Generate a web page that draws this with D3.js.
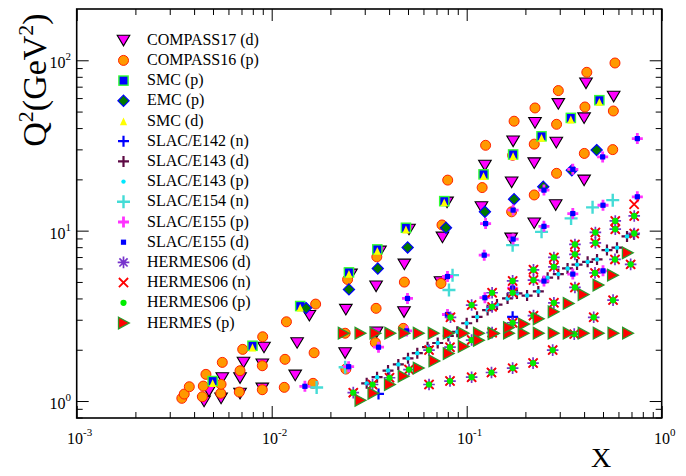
<!DOCTYPE html>
<html><head><meta charset="utf-8">
<script src="https://cdn.jsdelivr.net/npm/d3@7/dist/d3.min.js"></script>
<style>
html,body{margin:0;padding:0;background:#fff;}
svg{display:block;font-family:"Liberation Serif","Times New Roman",serif;}
</style></head><body>
<svg id="chart" width="686" height="476"></svg>
<script>
// ---------------- data (x, Q^2 in GeV^2) ----------------
const compass17d = [[0.00450,0.998],[0.00477,1.145],[0.00550,1.04],[0.00558,1.37],[0.00688,1.11],[0.00688,1.37],[0.00717,1.69],[0.00895,1.19],[0.00895,1.65],[0.00913,2.07],[0.0132,1.42],[0.0135,2.20],[0.0156,3.18],[0.0238,1.92],[0.0240,3.45],[0.0255,5.56],[0.0343,4.73],[0.0345,2.54],[0.0359,7.58],[0.0477,3.34],[0.0479,6.36],[0.0506,10.2],[0.0734,5.01],[0.0751,9.16],[0.0793,14.7],[0.119,13.8],[0.124,24.2],[0.169,9.04],[0.170,19.3],[0.173,33.6],[0.222,11.1],[0.222,25.0],[0.224,43.1],[0.286,14.2],[0.288,33.0],[0.295,55.7],[0.400,19.8],[0.400,45.9],[0.409,73.6],[0.567,61.5]];
const compass16p = [[0.00346,1.037],[0.00356,1.099],[0.00378,1.213],[0.00441,1.060],[0.00446,1.224],[0.00460,1.434],[0.00548,1.110],[0.00550,1.253],[0.00558,1.686],[0.00682,1.129],[0.00688,1.506],[0.00710,2.010],[0.00895,1.165],[0.00895,1.611],[0.00899,2.383],[0.0116,1.203],[0.0117,1.757],[0.0119,2.918],[0.0163,1.270],[0.0165,1.920],[0.0168,3.707],[0.0238,2.50],[0.0240,1.54],[0.0245,5.17],[0.0340,2.20],[0.0343,3.50],[0.0346,7.02],[0.0473,2.67],[0.0479,4.99],[0.0738,4.90],[0.0747,10.8],[0.0799,19.8],[0.120,17.9],[0.125,31.7],[0.170,12.9],[0.172,27.7],[0.175,43.9],[0.222,16.2],[0.222,32.2],[0.224,52.5],[0.289,21.7],[0.289,42.1],[0.295,66.4],[0.401,28.4],[0.404,53.2],[0.413,85.0],[0.561,29.9],[0.565,50.4],[0.576,96.4]];
const smcP = [[0.00498,1.31],[0.00797,2.11],[0.0140,3.61],[0.0249,5.69],[0.0348,7.76],[0.0488,10.4],[0.0767,14.9],[0.122,21.4],[0.173,28.0],[0.242,35.8],[0.342,45.9],[0.479,58.3]];
const emcP = [[0.0150,3.51],[0.0249,4.52],[0.0350,6.00],[0.0498,7.97],[0.0783,10.4],[0.124,12.9],[0.175,15.3],[0.247,18.1],[0.346,22.6],[0.464,29.7]];
const smcD = [[0.00498,1.28],[0.00797,2.07],[0.0140,3.55],[0.0249,5.60],[0.0348,7.64],[0.0488,10.2],[0.0767,14.7],[0.122,21.0],[0.173,27.5],[0.242,35.2],[0.342,45.1],[0.479,57.3]];
const e142n = [[0.0353,1.10],[0.172,3.12]];
const e143d = [[0.0307,1.27],[0.0347,1.38],[0.0395,1.51],[0.0446,1.64],[0.0500,1.78],[0.0558,1.91],[0.0630,2.07],[0.0710,2.19],[0.0805,2.41],[0.0895,2.55],[0.100,2.86],[0.113,3.12],[0.128,3.42],[0.143,3.68],[0.162,4.00],[0.181,4.28],[0.204,4.16],[0.233,4.40],[0.260,5.30],[0.295,5.56],[0.329,6.00],[0.368,6.32],[0.417,6.56],[0.466,6.78],[0.524,7.69],[0.590,7.95],[0.664,9.25],[0.721,9.54]];
const e143p = [[0.0307,1.27],[0.0347,1.38],[0.0395,1.51],[0.0446,1.64],[0.0500,1.78],[0.0558,1.91],[0.0630,2.07],[0.0710,2.19],[0.0805,2.41],[0.0895,2.55],[0.100,2.86],[0.113,3.12],[0.128,3.42],[0.143,3.68],[0.162,4.00],[0.181,4.28],[0.204,4.16],[0.233,4.40],[0.260,5.30],[0.295,5.56],[0.329,6.00],[0.368,6.32],[0.417,6.56],[0.466,6.78],[0.524,7.69],[0.590,7.95],[0.664,9.25],[0.721,9.54]];
const e154n = [[0.0170,1.20],[0.0238,1.58],[0.0811,4.48],[0.0846,5.48],[0.172,8.22],[0.242,9.84],[0.343,11.8],[0.442,13.7],[0.561,15.1]];
const e155p = [[0.0148,1.22],[0.0248,1.59],[0.0353,2.07],[0.0492,2.58],[0.0497,4.00],[0.0797,3.22],[0.0797,5.38],[0.123,7.18],[0.124,4.04],[0.125,11.0],[0.172,4.60],[0.173,8.92],[0.173,13.2],[0.249,5.06],[0.249,10.6],[0.249,17.3],[0.350,5.56],[0.350,12.6],[0.350,22.9],[0.500,5.81],[0.500,14.1],[0.498,27.1],[0.750,15.8],[0.750,34.7]];
const e155d = [[0.0148,1.22],[0.0248,1.59],[0.0353,2.07],[0.0492,2.58],[0.0497,4.00],[0.0797,3.22],[0.0797,5.38],[0.123,7.18],[0.124,4.04],[0.125,11.0],[0.172,4.60],[0.173,8.92],[0.173,13.2],[0.249,5.06],[0.249,10.6],[0.249,17.3],[0.350,5.56],[0.350,12.6],[0.350,22.9],[0.500,5.81],[0.500,14.1],[0.498,27.1],[0.750,15.8],[0.750,34.7]];
const hermes06d = [[0.0262,1.12],[0.0329,1.25],[0.0402,1.37],[0.0506,1.53],[0.0641,1.25],[0.0641,1.99],[0.0821,1.31],[0.0821,2.07],[0.0826,3.10],[0.106,1.38],[0.106,2.28],[0.106,3.66],[0.134,1.47],[0.135,2.52],[0.135,3.57],[0.135,4.32],[0.172,1.56],[0.172,2.88],[0.172,4.32],[0.172,5.07],[0.219,1.67],[0.220,3.17],[0.220,5.13],[0.220,5.89],[0.276,1.99],[0.280,3.77],[0.280,6.13],[0.280,6.96],[0.356,2.47],[0.359,4.64],[0.359,7.26],[0.359,8.30],[0.448,3.10],[0.455,5.65],[0.457,8.48],[0.457,9.76],[0.563,3.91],[0.576,6.78],[0.578,10.2],[0.578,11.4],[0.693,6.34],[0.723,9.63],[0.723,12.2]];
const hermes06n = [[0.0262,1.12],[0.0329,1.25],[0.0402,1.37],[0.0506,1.53],[0.0641,1.25],[0.0641,1.99],[0.0821,1.31],[0.0821,2.07],[0.0826,3.10],[0.106,1.38],[0.106,2.28],[0.106,3.66],[0.134,1.47],[0.135,2.52],[0.135,3.57],[0.135,4.32],[0.172,1.56],[0.172,2.88],[0.172,4.32],[0.172,5.07],[0.219,1.67],[0.220,3.17],[0.220,5.13],[0.220,5.89],[0.276,1.99],[0.280,3.77],[0.280,6.13],[0.280,6.96],[0.356,2.47],[0.359,4.64],[0.359,7.26],[0.359,8.30],[0.448,3.10],[0.455,5.65],[0.457,8.48],[0.457,9.76],[0.563,3.91],[0.576,6.78],[0.578,10.2],[0.578,11.4],[0.693,6.34],[0.723,9.63],[0.723,12.2],[0.722,14.3]];
const hermes06p = [[0.0262,1.12],[0.0329,1.25],[0.0402,1.37],[0.0506,1.53],[0.0641,1.25],[0.0641,1.99],[0.0821,1.31],[0.0821,2.07],[0.0826,3.10],[0.106,1.38],[0.106,2.28],[0.106,3.66],[0.134,1.47],[0.135,2.52],[0.135,3.57],[0.135,4.32],[0.172,1.56],[0.172,2.88],[0.172,4.32],[0.172,5.07],[0.219,1.67],[0.220,3.17],[0.220,5.13],[0.220,5.89],[0.276,1.99],[0.280,3.77],[0.280,6.13],[0.280,6.96],[0.356,2.47],[0.359,4.64],[0.359,7.26],[0.359,8.30],[0.448,3.10],[0.455,5.65],[0.457,8.48],[0.457,9.76],[0.563,3.91],[0.576,6.78],[0.578,10.2],[0.578,11.4],[0.693,6.34],[0.723,9.63],[0.723,12.2]];
const hermesP = [[0.0233,2.5],[0.0284,2.5],[0.0339,2.5],[0.0404,2.5],[0.0477,2.5],[0.0565,2.5],[0.0674,2.5],[0.0805,2.5],[0.0961,2.5],[0.115,2.5],[0.137,2.5],[0.164,2.5],[0.195,2.5],[0.233,2.5],[0.278,2.5],[0.332,2.5],[0.396,2.5],[0.473,2.5],[0.563,2.5],[0.669,2.5],
  [0.0284,1.01],[0.0331,1.11],[0.0402,1.25],[0.0473,1.40],[0.0565,1.56],[0.0680,1.72],[0.0805,1.90],[0.0961,2.09],[0.115,2.27],[0.137,2.49],[0.164,2.70],[0.196,2.83],[0.233,3.04],[0.278,3.34],[0.332,3.74],[0.396,4.22],[0.472,4.79],[0.560,5.48],[0.667,7.41]];

const seriesNames = ["COMPASS17 (d)","COMPASS16 (p)","SMC (p)","EMC (p)","SMC (d)","SLAC/E142 (n)","SLAC/E143 (d)","SLAC/E143 (p)","SLAC/E154 (n)","SLAC/E155 (p)","SLAC/E155 (d)","HERMES06 (d)","HERMES06 (n)","HERMES06 (p)","HERMES (p)"];
const seriesData = [compass17d,compass16p,smcP,emcP,smcD,e142n,e143d,e143p,e154n,e155p,e155d,hermes06d,hermes06n,hermes06p,hermesP];

const xMajorTicks = [0.001,0.01,0.1,1];
const xMinorTicks = [0.002,0.003,0.004,0.005,0.006,0.007,0.008,0.009,0.02,0.03,0.04,0.05,0.06,0.07,0.08,0.09,0.2,0.3,0.4,0.5,0.6,0.7,0.8,0.9];
const xTickExp = ["-3","-2","-1","0"];
const yMajorTicks = [1,10,100];
const yMinorTicks = [0.8,0.9,2,3,4,5,6,7,8,9,20,30,40,50,60,70,80,90];
const yTickExp = ["0","1","2"];

// ---------------- styles ----------------
const markerTypes = ["tridown","circle","square","diamond","triup","plusBlue","plusPurple","dotCyan","plusCyan","plusMagenta","sqSmall","star","cross","dotGreen","triright"];

function drawMarker(g, type){
  switch(type){
    case "tridown": g.append("path").attr("d","M-6.3,-5L6.3,-5L0,5.6Z").attr("fill","#ff00ff").attr("stroke","#000").attr("stroke-width",1.1); break;
    case "circle": g.append("circle").attr("r",5).attr("fill","#ff9900").attr("stroke","#ff2200").attr("stroke-width",1); break;
    case "square": g.append("rect").attr("x",-4.6).attr("y",-4.6).attr("width",9.2).attr("height",9.2).attr("fill","#0000ff").attr("stroke","#33ff33").attr("stroke-width",1.4); break;
    case "diamond": g.append("path").attr("d","M0,-5.6L5.6,0L0,5.6L-5.6,0Z").attr("fill","#007a00").attr("stroke","#0000ff").attr("stroke-width",1.2); break;
    case "triup": g.append("path").attr("d","M0,-3.6L3.6,4.2L-3.6,4.2Z").attr("fill","#ffff00"); break;
    case "plusBlue": g.append("path").attr("d","M-5.5,0H5.5M0,-5.5V5.5").attr("stroke","#0000ff").attr("stroke-width",2.2); break;
    case "plusPurple": g.append("path").attr("d","M-5.5,0H5.5M0,-5.5V5.5").attr("stroke","#5e0a44").attr("stroke-width",2.2); break;
    case "dotCyan": g.append("circle").attr("r",2.2).attr("fill","#00e8ff"); break;
    case "plusCyan": g.append("path").attr("d","M-6.5,0H6.5M0,-6.5V6.5").attr("stroke","#44dcd6").attr("stroke-width",2.4); break;
    case "plusMagenta": g.append("path").attr("d","M-5.5,0H5.5M0,-5.5V5.5").attr("stroke","#ff33ff").attr("stroke-width",2.8); break;
    case "sqSmall": g.append("rect").attr("x",-2.6).attr("y",-2.6).attr("width",5.2).attr("height",5.2).attr("fill","#0000ff"); break;
    case "star": g.append("path").attr("d","M-5.8,0H5.8M0,-5.8V5.8M-4.1,-4.1L4.1,4.1M-4.1,4.1L4.1,-4.1").attr("stroke","#7733cc").attr("stroke-width",1.7); break;
    case "cross": g.append("path").attr("d","M-4.6,-4.6L4.6,4.6M-4.6,4.6L4.6,-4.6").attr("stroke","#ff0000").attr("stroke-width",1.8); break;
    case "dotGreen": g.append("circle").attr("r",3.1).attr("fill","#00ee00"); break;
    case "triright": g.append("path").attr("d","M-5,-5.8L5.8,0L-5,5.8Z").attr("fill","#ff0000").attr("stroke","#2a9a2a").attr("stroke-width",1.3); break;
  }
}

// ---------------- chart ----------------
const svg = d3.select("#chart");
const L = 76.7, R = 661.7, T = 9, B = 418;
const x = d3.scaleLog().domain([1e-3, 1]).range([L, R]);
const y = d3.scaleLog().domain([0.795, 200]).range([B, T]);

svg.append("rect").attr("width",686).attr("height",476).attr("fill","#fff");

function axisG(axis, tr){
  const g = svg.append("g").attr("transform", tr).call(axis);
  g.select(".domain").remove();
  g.selectAll(".tick line").attr("stroke","#000").attr("stroke-width",1);
  return g;
}
axisG(d3.axisBottom(x).tickValues(xMajorTicks).tickSize(-12).tickFormat(""), `translate(0,${B})`);
axisG(d3.axisBottom(x).tickValues(xMinorTicks).tickSize(-6).tickFormat(""), `translate(0,${B})`);
axisG(d3.axisTop(x).tickValues(xMajorTicks).tickSize(-12).tickFormat(""), `translate(0,${T})`);
axisG(d3.axisTop(x).tickValues(xMinorTicks).tickSize(-6).tickFormat(""), `translate(0,${T})`);
axisG(d3.axisLeft(y).tickValues(yMajorTicks).tickSize(-12).tickFormat(""), `translate(${L},0)`);
axisG(d3.axisLeft(y).tickValues(yMinorTicks).tickSize(-6).tickFormat(""), `translate(${L},0)`);
axisG(d3.axisRight(y).tickValues(yMajorTicks).tickSize(-12).tickFormat(""), `translate(${R},0)`);
axisG(d3.axisRight(y).tickValues(yMinorTicks).tickSize(-6).tickFormat(""), `translate(${R},0)`);

svg.append("rect").attr("x",L).attr("y",T).attr("width",R-L).attr("height",B-T)
  .attr("fill","none").attr("stroke","#000").attr("stroke-width",1.6);

// tick labels
xMajorTicks.forEach((v,i)=>{
  const t = svg.append("text").attr("x", x(v)+3).attr("y", 444).attr("text-anchor","middle").attr("font-size",16).attr("fill","#000");
  t.append("tspan").text("10");
  t.append("tspan").attr("font-size",11).attr("dy",-8).text(xTickExp[i]);
});
yMajorTicks.forEach((v,i)=>{
  const t = svg.append("text").attr("x", 71).attr("y", y(v)+8).attr("text-anchor","end").attr("font-size",16).attr("fill","#000");
  t.append("tspan").text("10");
  t.append("tspan").attr("font-size",11).attr("dy",-8).text(yTickExp[i]);
});

// axis titles
const yt = svg.append("text").attr("transform","translate(46,80) rotate(-90)").attr("text-anchor","middle").attr("font-size",34).attr("fill","#000");
yt.append("tspan").text("Q");
yt.append("tspan").attr("font-size",22).attr("dy",-13).text("2");
yt.append("tspan").attr("dy",13).text("(GeV");
yt.append("tspan").attr("font-size",22).attr("dy",-13).text("2");
yt.append("tspan").attr("dy",13).text(")");
svg.append("text").attr("x",601).attr("y",467).attr("text-anchor","middle").attr("font-size",28).attr("fill","#000").text("X");

// data points
const plot = svg.append("g");
seriesData.forEach((data,k)=>{
  plot.append("g").selectAll("g").data(data).join("g")
    .attr("transform", d=>`translate(${x(d[0])},${y(d[1])})`)
    .each(function(){ drawMarker(d3.select(this), markerTypes[k]); });
});

// legend
const leg = svg.append("g");
seriesNames.forEach((name,i)=>{
  const yy = 40.2 + 20.2*i;
  drawMarker(leg.append("g").attr("transform",`translate(123.5,${yy})`), markerTypes[i]);
  leg.append("text").attr("x",147).attr("y",yy+4.5).attr("font-size",16).attr("fill","#000").text(name);
});
</script></body></html>
